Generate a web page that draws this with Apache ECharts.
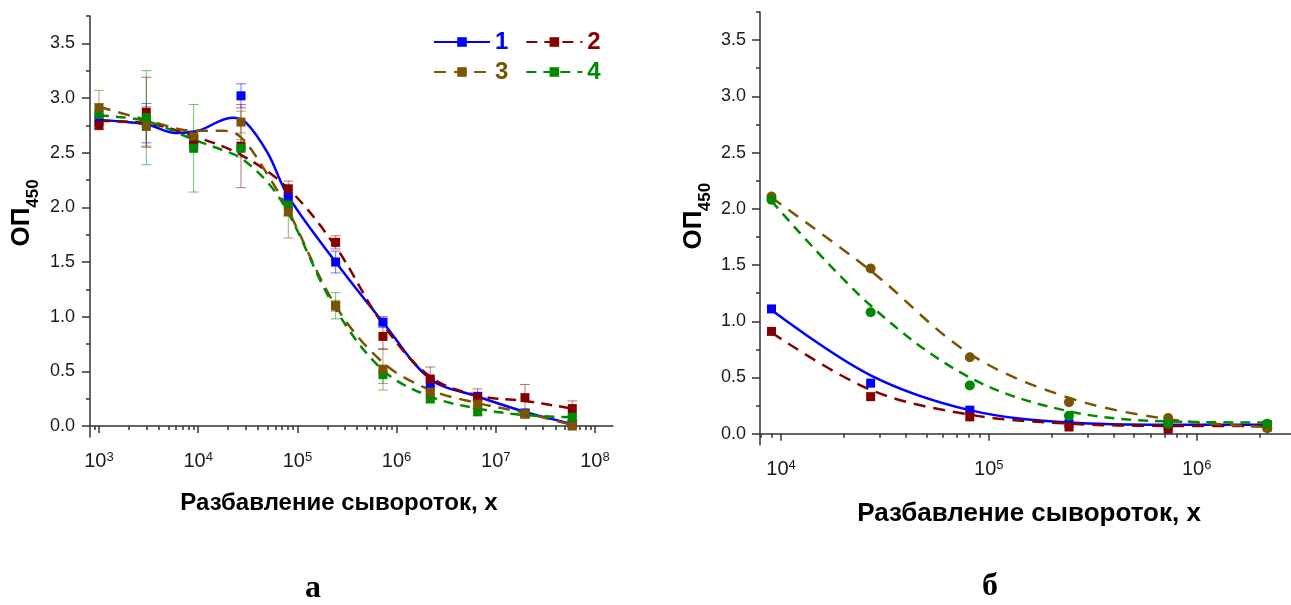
<!DOCTYPE html>
<html><head><meta charset="utf-8">
<script src="https://cdn.jsdelivr.net/npm/echarts@6/dist/echarts.min.js"></script>
<style>html,body{margin:0;padding:0;background:#fff}#c{width:1291px;height:605px}</style>
</head><body><div id="c"></div><script>
// ---------- data: panel а ----------
const dilA = [1e3, 3e3, 9e3, 2.7e4, 8.1e4, 2.43e5, 7.29e5, 2.187e6, 6.561e6, 1.9683e7, 5.9049e7];
const a1 = [2.81, 2.77, 2.60, 3.02, 2.10, 1.50, 0.95, 0.39, 0.27, 0.12, 0.02];
const a1Err = [0.05, 0.18, 0.05, 0.11, 0.06, 0.10, 0.05, 0.05, 0.04, 0.03, 0.03];
const a2 = [2.75, 2.87, 2.62, 2.56, 2.17, 1.68, 0.82, 0.43, 0.26, 0.26, 0.16];
const a2Err = [0.04, 0.32, 0.04, 0.38, 0.07, 0.06, 0.12, 0.11, 0.08, 0.12, 0.07];
const a3 = [2.91, 2.74, 2.65, 2.78, 1.96, 1.10, 0.52, 0.31, 0.20, 0.11, 0.00];
const a3Err = [0.16, 0.18, 0.05, 0.10, 0.24, 0.05, 0.19, 0.05, 0.04, 0.03, 0.03];
const a4 = [2.85, 2.82, 2.54, 2.54, 2.02, 1.10, 0.47, 0.25, 0.13, 0.11, 0.08];
const a4Err = [0.10, 0.43, 0.40, 0.08, 0.10, 0.12, 0.08, 0.04, 0.03, 0.02, 0.02];
// fitted curves
const fitA1x = [1e3, 3e3, 6e3, 1e4, 2.2e4, 3e4, 5e4, 8.1e4, 2.43e5, 7.29e5, 2.187e6, 6.561e6, 1.9683e7, 5.9049e7];
const fitA1y = [2.80, 2.76, 2.68, 2.70, 2.82, 2.78, 2.50, 2.10, 1.50, 0.95, 0.43, 0.27, 0.13, 0.02];
const fitA2x = [1e3, 3e3, 9e3, 2.7e4, 8.1e4, 2.43e5, 7.29e5, 2.187e6, 6.561e6, 1.9683e7, 5.9049e7];
const fitA2y = [2.79, 2.77, 2.65, 2.48, 2.17, 1.64, 0.93, 0.45, 0.28, 0.23, 0.16];
const fitA3x = [1e3, 3e3, 9e3, 1.8e4, 2.7e4, 5e4, 8.1e4, 2.43e5, 7.29e5, 2.187e6, 6.561e6, 1.9683e7, 5.9049e7];
const fitA3y = [2.92, 2.80, 2.70, 2.70, 2.64, 2.30, 1.97, 1.10, 0.58, 0.33, 0.21, 0.12, 0.01];
const fitA4x = [1e3, 3e3, 9e3, 1.8e4, 2.7e4, 5e4, 8.1e4, 2.43e5, 7.29e5, 2.187e6, 6.561e6, 1.9683e7, 5.9049e7];
const fitA4y = [2.84, 2.79, 2.62, 2.52, 2.45, 2.23, 1.95, 1.07, 0.51, 0.27, 0.16, 0.10, 0.08];
// ---------- data: panel б ----------
const dilB = [9e3, 2.7e4, 8.1e4, 2.43e5, 7.29e5, 2.187e6];
const b1 = [1.11, 0.45, 0.21, 0.09, 0.07, 0.08];
const b2 = [0.91, 0.33, 0.15, 0.06, 0.04, 0.06];
const b3 = [2.11, 1.47, 0.68, 0.28, 0.14, 0.05];
const b4 = [2.08, 1.08, 0.43, 0.16, 0.09, 0.09];
const fitB1 = [1.10, 0.52, 0.21, 0.10, 0.08, 0.08];
const fitB2 = [0.90, 0.39, 0.17, 0.09, 0.07, 0.07];
const fitB3 = [2.10, 1.45, 0.71, 0.32, 0.13, 0.06];
const fitB4 = [2.07, 1.14, 0.50, 0.20, 0.11, 0.10];
// ---------- ticks / labels ----------
const yMajor = [0, 0.5, 1.0, 1.5, 2.0, 2.5, 3.0, 3.5];
const yMinor = [0.25, 0.75, 1.25, 1.75, 2.25, 2.75, 3.25, 3.75];
const xMajorA = [1e3, 1e4, 1e5, 1e6, 1e7, 1e8];
const xMajorB = [1e4, 1e5, 1e6];
const seriesNames = ['1', '2', '3', '4'];
const xTitle = 'Разбавление сывороток, х';
const yTitleMain = 'ОП';
const yTitleSub = '450';
const panelLabels = ['а', 'б'];

const C = ['#0000ff', '#870000', '#7a5400', '#008a00'];
const AX = '#333333';
const FONT = '"Liberation Sans", Arial, sans-serif';
const A_MIN = 811.7, A_MAX = 1.519e8, B_MIN = 7925, B_MAX = 2.843e6;

function minorLog(lo, hi) {
  const out = [];
  for (let e = Math.floor(Math.log10(lo)); e <= Math.ceil(Math.log10(hi)); e++) {
    for (let k = 2; k <= 9; k++) { const v = k * Math.pow(10, e); if (v >= lo && v <= hi) out.push(v); }
  }
  return out;
}
const pair = (xs, ys) => xs.map((x, i) => [x, ys[i]]);

function xAxes(grid, min, max, majors) {
  return [
    { type: 'log', logBase: 10, gridIndex: grid, min: min, max: max, position: 'bottom',
      axisLine: { show: true, lineStyle: { color: AX, width: 1.5 } },
      axisTick: { show: true, length: 7, customValues: majors, lineStyle: { color: AX, width: 1.5 } },
      axisLabel: { show: true, margin: 14, customValues: majors,
        formatter: v => '{b|10}{s|' + Math.round(Math.log10(v)) + '}',
        rich: { b: { fontSize: 20, fontFamily: FONT, color: '#1a1a1a' },
                s: { fontSize: 13, fontFamily: FONT, color: '#1a1a1a', verticalAlign: 'top' } } },
      splitLine: { show: false }, minorTick: { show: false } },
    { type: 'log', logBase: 10, gridIndex: grid, min: min, max: max, position: 'bottom',
      axisLine: { show: false },
      axisTick: { show: true, length: 4, customValues: minorLog(min, max), lineStyle: { color: AX, width: 1.5 } },
      axisLabel: { show: false }, splitLine: { show: false } }
  ];
}
function yAxes(grid, margin) {
  return [
    { type: 'value', gridIndex: grid, min: -0.1, max: 3.75, position: 'left',
      axisLine: { show: true, lineStyle: { color: AX, width: 1.5 } },
      axisTick: { show: true, length: 8, customValues: yMajor, lineStyle: { color: AX, width: 1.5 } },
      axisLabel: { show: true, margin: margin, customValues: yMajor, formatter: v => v.toFixed(1),
        fontSize: 18, fontFamily: FONT, color: '#1a1a1a' },
      splitLine: { show: false } },
    { type: 'value', gridIndex: grid, min: -0.1, max: 3.75, position: 'left',
      axisLine: { show: false },
      axisTick: { show: true, length: 4, customValues: yMinor, lineStyle: { color: AX, width: 1.5 } },
      axisLabel: { show: false }, splitLine: { show: false } }
  ];
}

function errSeries(name, color, ys, errs) {
  return {
    type: 'custom', name: name, xAxisIndex: 0, yAxisIndex: 0, z: 1,
    data: dilA.map((d, i) => [d, ys[i], errs[i]]),
    encode: { x: 0, y: 1 },
    renderItem: function (params, api) {
      const x = api.value(0), y = api.value(1), e = api.value(2);
      const t = api.coord([x, y + e]), b = api.coord([x, y - e]);
      const hw = 5;
      const st = { stroke: color, lineWidth: 1, opacity: 0.55 };
      return { type: 'group', children: [
        { type: 'line', shape: { x1: t[0], y1: t[1], x2: b[0], y2: b[1] }, style: st },
        { type: 'line', shape: { x1: t[0] - hw, y1: t[1], x2: t[0] + hw, y2: t[1] }, style: st },
        { type: 'line', shape: { x1: b[0] - hw, y1: b[1], x2: b[0] + hw, y2: b[1] }, style: st }
      ] };
    }
  };
}
function curve(name, color, data, dash, xi, symbol) {
  return { type: 'line', name: name, xAxisIndex: xi, yAxisIndex: xi, data: data, smooth: 0.35,
    symbol: symbol, showSymbol: false, symbolSize: 9, z: 2, silent: true,
    itemStyle: { color: color },
    lineStyle: { color: color, width: 2.5, type: dash } };
}
function marks(name, color, xs, ys, xi, symbol, size) {
  return { type: 'scatter', name: name, xAxisIndex: xi, yAxisIndex: xi, data: pair(xs, ys),
    symbol: symbol, symbolSize: size, z: 3, itemStyle: { color: color, opacity: 1 } };
}

const dashes = ['solid', [11, 7], [12, 8], [10, 7]];
const dashesB = ['solid', [12, 8], [12, 9], [10, 7]];

const series = [
  errSeries('e1', C[0], a1, a1Err), errSeries('e2', C[1], a2, a2Err),
  errSeries('e3', C[2], a3, a3Err), errSeries('e4', C[3], a4, a4Err),
  curve('1', C[0], pair(fitA1x, fitA1y), dashes[0], 0, 'rect'),
  curve('2', C[1], pair(fitA2x, fitA2y), dashes[1], 0, 'rect'),
  curve('3', C[2], pair(fitA3x, fitA3y), dashes[2], 0, 'rect'),
  curve('4', C[3], pair(fitA4x, fitA4y), dashes[3], 0, 'rect'),
  marks('1', C[0], dilA, a1, 0, 'rect', 9),
  marks('2', C[1], dilA, a2, 0, 'rect', 9),
  marks('4', C[3], dilA, a4, 0, 'rect', 9),
  marks('3', C[2], dilA, a3, 0, 'rect', 9),
  curve('1', C[0], pair(dilB, fitB1), dashesB[0], 2, 'rect'),
  curve('2', C[1], pair(dilB, fitB2), dashesB[1], 2, 'rect'),
  curve('3', C[2], pair(dilB, fitB3), dashesB[2], 2, 'circle'),
  curve('4', C[3], pair(dilB, fitB4), dashesB[3], 2, 'circle'),
  marks('1', C[0], dilB, b1, 2, 'rect', 9),
  marks('2', C[1], dilB, b2, 2, 'rect', 9),
  marks('3', C[2], dilB, b3, 2, 'circle', 10),
  marks('4', C[3], dilB, b4, 2, 'circle', 10)
];

const legendBase = { orient: 'horizontal', padding: 0, itemWidth: 56, itemHeight: 12, itemGap: 17,
  selectedMode: false, textStyle: { fontSize: 24, fontWeight: 'bold', fontFamily: FONT } };

const option = {
  animation: false,
  backgroundColor: '#ffffff',
  grid: [
    { left: 90, top: 16, width: 523, height: 421, containLabel: false },
    { left: 760, top: 12, width: 531, height: 433, containLabel: false }
  ],
  xAxis: [...xAxes(0, A_MIN, A_MAX, xMajorA), ...xAxes(1, B_MIN, B_MAX, xMajorB)],
  yAxis: [...yAxes(0, 15), ...yAxes(1, 14)],
  legend: [
    Object.assign({}, legendBase, { left: 433, top: 30,
      data: [{ name: seriesNames[0], textStyle: { color: C[0] } }, { name: seriesNames[1], textStyle: { color: C[1] } }] }),
    Object.assign({}, legendBase, { left: 433, top: 60,
      data: [{ name: seriesNames[2], textStyle: { color: C[2] } }, { name: seriesNames[3], textStyle: { color: C[3] } }] })
  ],
  graphic: [
    { type: 'text', x: 21.5, y: 227, rotation: Math.PI / 2, style: { text: yTitleMain, font: 'bold 26px ' + FONT, fill: '#000', align: 'center', verticalAlign: 'middle' } },
    { type: 'text', x: 33, y: 193.5, rotation: Math.PI / 2, style: { text: yTitleSub, font: 'bold 17px ' + FONT, fill: '#000', align: 'center', verticalAlign: 'middle' } },
    { type: 'text', x: 693.5, y: 230, rotation: Math.PI / 2, style: { text: yTitleMain, font: 'bold 26px ' + FONT, fill: '#000', align: 'center', verticalAlign: 'middle' } },
    { type: 'text', x: 705, y: 197, rotation: Math.PI / 2, style: { text: yTitleSub, font: 'bold 17px ' + FONT, fill: '#000', align: 'center', verticalAlign: 'middle' } },
    { type: 'text', x: 339, y: 503, style: { text: xTitle, font: 'bold 24px ' + FONT, fill: '#000', align: 'center', verticalAlign: 'middle' } },
    { type: 'text', x: 1029, y: 514, style: { text: xTitle, font: 'bold 26px ' + FONT, fill: '#000', align: 'center', verticalAlign: 'middle' } },
    { type: 'text', x: 313, y: 589, style: { text: panelLabels[0], font: 'bold 32px "Liberation Serif", "Times New Roman", serif', fill: '#000', align: 'center', verticalAlign: 'middle' } },
    { type: 'text', x: 990, y: 587, style: { text: panelLabels[1], font: 'bold 32px "Liberation Serif", "Times New Roman", serif', fill: '#000', align: 'center', verticalAlign: 'middle' } }
  ],
  series: series
};
const chart = echarts.init(document.getElementById('c'), null, { renderer: 'canvas' });
chart.setOption(option);
</script></body></html>
